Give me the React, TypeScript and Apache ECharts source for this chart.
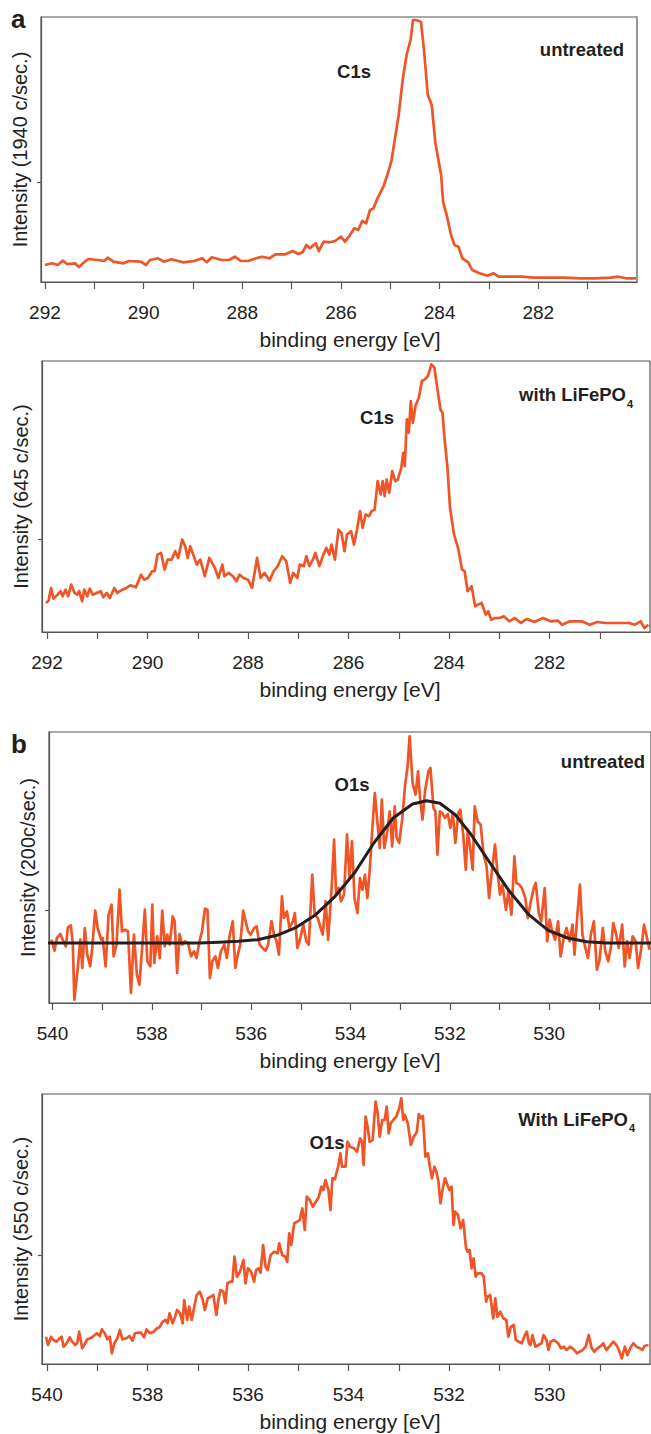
import React, { useEffect, useRef } from "react";
import * as echarts from "echarts";

// ---------- data (binding energy [eV], intensity in arbitrary units) ----------
const c1sUntreated: [number, number][] = [
  [292.0, 17], [291.86, 18.7], [291.74, 17], [291.64, 21.3], [291.55, 18], [291.39, 18.7], [291.31, 15],
  [291.23, 18.7], [291.12, 23], [290.92, 22], [290.8, 21], [290.73, 24.3], [290.61, 20.3], [290.41, 18.7],
  [290.3, 21], [290.06, 20.3], [289.95, 17], [289.87, 22], [289.71, 23.7], [289.59, 20.3], [289.44, 22.7],
  [289.2, 19.7], [288.97, 21], [288.81, 23.7], [288.72, 19.7], [288.62, 24.7], [288.42, 22], [288.27, 22],
  [288.15, 25.3], [288.03, 21], [287.88, 21], [287.72, 23.7], [287.6, 25.3], [287.45, 23.7], [287.33, 27.7],
  [287.13, 27.7], [286.98, 31], [286.86, 28], [286.78, 29.7], [286.7, 37], [286.63, 33.7], [286.51, 38.7],
  [286.45, 31], [286.35, 40.3], [286.23, 39.7], [286.12, 41], [286.0, 45.3], [285.92, 40.3], [285.84, 45.3],
  [285.73, 53.7], [285.65, 52], [285.57, 61], [285.49, 58.7], [285.41, 72], [285.34, 73.7], [285.26, 83.7],
  [285.14, 95.3], [285.06, 107], [284.98, 120.3], [284.91, 142], [284.83, 167], [284.75, 202], [284.67, 227],
  [284.59, 242], [284.54, 262], [284.48, 262], [284.38, 260.3], [284.32, 233.7], [284.24, 187], [284.16, 177],
  [284.09, 140.3], [283.97, 107], [283.93, 80.3], [283.85, 65.3], [283.77, 47], [283.7, 37], [283.62, 35.3],
  [283.54, 23.7], [283.42, 19.7], [283.34, 12], [283.19, 8.7], [283.03, 6.3], [282.91, 8.7], [282.8, 5.3],
  [282.56, 5.3], [282.33, 5.3], [282.09, 4.3], [281.78, 4.3], [281.47, 4.3], [281.16, 3.7], [280.84, 3.7],
  [280.53, 4.3], [280.38, 5.3], [280.22, 3.7], [280.02, 3.7],
];

const c1sLiFePO4: [number, number][] = [
  [292.02, 29], [291.97, 31.3], [291.92, 44], [291.87, 33.3], [291.79, 37.3], [291.73, 40.7], [291.69, 35.7],
  [291.63, 42.3], [291.58, 35.7], [291.52, 47.3], [291.45, 39], [291.4, 37.3], [291.36, 40.7], [291.3, 30.7],
  [291.26, 42.3], [291.2, 35.7], [291.15, 43.3], [291.09, 37.3], [291.01, 39], [290.93, 40.7], [290.88, 34.7],
  [290.81, 39], [290.75, 34], [290.66, 44], [290.6, 39], [290.5, 42.3], [290.42, 44], [290.34, 46.7],
  [290.23, 44.7], [290.13, 57.3], [290.07, 52.3], [289.99, 54], [289.91, 60.7], [289.86, 60.7], [289.8, 77.3],
  [289.73, 79], [289.66, 62.3], [289.6, 72.3], [289.52, 72.3], [289.45, 80.7], [289.39, 74], [289.31, 92.3],
  [289.25, 85.7], [289.2, 74], [289.15, 85.7], [289.09, 77.3], [289.02, 67.3], [288.95, 72.3], [288.86, 55.7],
  [288.77, 74], [288.66, 64], [288.59, 54], [288.51, 67.3], [288.47, 55.7], [288.39, 59], [288.3, 55.7],
  [288.23, 50.7], [288.17, 57.3], [288.09, 54], [288.0, 52.3], [287.92, 44], [287.82, 74], [287.75, 54],
  [287.67, 59], [287.57, 51.3], [287.49, 60.7], [287.41, 65.7], [287.32, 75.7], [287.24, 70.7], [287.16, 49],
  [287.1, 59], [287.02, 54], [286.97, 67.3], [286.89, 65.7], [286.84, 75.7], [286.78, 65.7], [286.71, 72.3],
  [286.66, 79], [286.58, 65.7], [286.5, 77.3], [286.44, 84], [286.38, 77.3], [286.34, 87.3], [286.27, 72.3],
  [286.2, 102.3], [286.14, 99], [286.08, 80.7], [286.03, 97.3], [285.95, 100.7], [285.89, 87.3], [285.83, 102.3],
  [285.77, 120.7], [285.72, 104], [285.66, 117.3], [285.59, 115.7], [285.54, 120.7], [285.48, 122.3],
  [285.42, 150.7], [285.36, 137.3], [285.32, 150.7], [285.28, 135.7], [285.24, 152.3], [285.19, 139],
  [285.13, 160.7], [285.07, 150.7], [285.02, 152.3], [284.95, 164], [284.91, 179], [284.88, 165.7],
  [284.84, 212.3], [284.8, 199], [284.76, 230.7], [284.72, 209], [284.66, 227.3], [284.6, 234], [284.54, 250.7],
  [284.48, 252.3], [284.42, 255.7], [284.35, 267.3], [284.29, 264], [284.23, 242.3], [284.17, 222.3],
  [284.13, 219], [284.09, 194], [284.03, 164], [283.98, 124], [283.9, 97.3], [283.82, 84], [283.74, 62.3],
  [283.69, 60.7], [283.63, 40.7], [283.55, 45.7], [283.48, 25.7], [283.43, 27.3], [283.35, 29], [283.27, 17.3],
  [283.22, 20.7], [283.16, 12.3], [283.08, 14], [283.0, 14], [282.91, 15.7], [282.8, 10.7], [282.69, 14],
  [282.57, 9], [282.45, 13], [282.3, 10], [282.13, 14], [281.98, 10.7], [281.83, 11.3], [281.75, 7.3],
  [281.59, 10.7], [281.36, 10.7], [281.2, 7.3], [281.05, 10], [280.89, 9], [280.66, 9], [280.42, 9],
  [280.3, 7.3], [280.19, 10.7], [280.11, 4], [280.03, 7.3],
];

const o1sUntreated: [number, number][] = [
  [540.02, 63.3], [539.96, 52.3], [539.91, 65], [539.84, 69], [539.78, 61.7], [539.73, 56.7], [539.69, 75.7],
  [539.63, 77.7], [539.59, 58.3], [539.56, 3.3], [539.49, 35], [539.44, 63.3], [539.4, 35], [539.35, 75],
  [539.3, 48.3], [539.24, 36.7], [539.2, 55], [539.14, 92.3], [539.09, 75], [539.02, 63.3], [538.99, 65],
  [538.93, 36.7], [538.87, 88.3], [538.81, 98.3], [538.77, 46.7], [538.71, 58.3], [538.65, 113.3], [538.6, 71.7],
  [538.54, 73.3], [538.48, 71.7], [538.42, 10], [538.36, 68.3], [538.3, 28.3], [538.25, 18.3], [538.19, 58.3],
  [538.14, 93.3], [538.09, 41.7], [538.03, 36.7], [537.99, 98.3], [537.95, 40], [537.89, 66.7], [537.84, 45],
  [537.79, 92.3], [537.74, 56.7], [537.69, 68.3], [537.64, 58.3], [537.58, 86.7], [537.54, 81.7], [537.49, 30],
  [537.44, 69], [537.39, 58.3], [537.33, 61.7], [537.27, 60], [537.21, 46.7], [537.15, 51.7], [537.1, 45],
  [537.04, 61.7], [536.99, 71.7], [536.93, 94.3], [536.88, 93.3], [536.83, 25], [536.78, 41.7], [536.72, 46.7],
  [536.67, 35], [536.61, 51.7], [536.54, 58.3], [536.49, 45], [536.43, 68.3], [536.37, 81.7], [536.32, 35],
  [536.27, 48.3], [536.22, 58.3], [536.16, 92.3], [536.12, 83.3], [536.06, 71.7], [536.01, 68.3], [535.94, 75],
  [535.89, 76.7], [535.83, 58.3], [535.77, 55], [535.71, 52.3], [535.66, 58.3], [535.59, 81.7], [535.54, 68.3],
  [535.49, 61.7], [535.44, 48.3], [535.38, 106.7], [535.34, 85], [535.28, 91.7], [535.23, 75], [535.16, 81.7],
  [535.12, 90], [535.07, 55], [535.01, 65], [534.95, 78.3], [534.89, 61.7], [534.84, 58.3], [534.77, 128.3],
  [534.72, 88.3], [534.66, 85], [534.6, 75], [534.56, 68.3], [534.5, 101.7], [534.45, 63.3], [534.38, 115],
  [534.33, 163.3], [534.29, 108.3], [534.24, 115], [534.19, 101.7], [534.13, 108.3], [534.07, 168.3],
  [534.02, 125], [533.97, 161.7], [533.92, 105], [533.86, 90], [533.81, 125], [533.76, 113.3], [533.71, 128.3],
  [533.66, 105], [533.61, 135], [533.56, 175], [533.51, 210], [533.46, 181.7], [533.41, 155], [533.37, 203.3],
  [533.32, 155], [533.27, 168.3], [533.21, 191.7], [533.16, 156.7], [533.11, 196.7], [533.07, 165], [533.02, 160],
  [532.96, 183.3], [532.9, 218.3], [532.85, 236.7], [532.81, 266.7], [532.75, 220], [532.69, 208.3],
  [532.64, 231.7], [532.6, 205], [532.55, 183.3], [532.5, 211.7], [532.43, 231.7], [532.39, 235], [532.33, 195],
  [532.29, 191.7], [532.25, 148.3], [532.2, 191.7], [532.15, 190], [532.1, 185], [532.04, 189], [531.99, 175],
  [531.94, 190], [531.89, 160], [531.83, 190], [531.79, 193.3], [531.73, 168.3], [531.68, 133.3], [531.64, 171.7],
  [531.59, 155], [531.54, 133.3], [531.5, 196.7], [531.44, 181.7], [531.38, 178.3], [531.32, 148.3],
  [531.26, 136.7], [531.21, 105], [531.15, 133.3], [531.09, 158.3], [531.05, 135], [530.99, 108.3],
  [530.94, 118.3], [530.87, 93.3], [530.82, 111.7], [530.76, 88.3], [530.7, 146.7], [530.66, 120], [530.6, 118.3],
  [530.55, 115], [530.48, 105], [530.43, 85], [530.37, 101.7], [530.31, 115], [530.27, 120], [530.21, 90],
  [530.16, 81.7], [530.09, 115], [530.04, 61.7], [529.99, 83.3], [529.94, 71.7], [529.88, 63.3], [529.82, 81.7],
  [529.77, 46.7], [529.7, 66.7], [529.65, 75], [529.59, 61.7], [529.53, 78.3], [529.49, 48.3], [529.43, 90],
  [529.38, 118.3], [529.33, 68.3], [529.27, 55], [529.22, 45], [529.16, 68.3], [529.1, 81.7], [529.04, 33.3],
  [528.99, 41.7], [528.92, 75], [528.87, 51.7], [528.81, 41.7], [528.75, 58.3], [528.71, 80], [528.65, 68.3],
  [528.6, 55], [528.53, 78.3], [528.48, 36.7], [528.43, 61.7], [528.38, 45], [528.32, 66.7], [528.26, 61.7],
  [528.21, 35], [528.14, 56.7], [528.09, 78.3], [528.03, 65], [527.98, 53.3],
];

const o1sUntreatedFit: [number, number][] = [
  [540.09, 60], [538.6, 60], [537.04, 60], [536.65, 60.7], [536.26, 61.7], [535.87, 63.3], [535.48, 67.7],
  [535.09, 75.7], [534.7, 88.3], [534.31, 106.7], [533.92, 130], [533.53, 160], [533.14, 185], [532.75, 199],
  [532.47, 202.3], [532.2, 199.7], [531.89, 188.3], [531.58, 169], [531.19, 140], [530.8, 111.7], [530.41, 88.3],
  [530.02, 72.7], [529.63, 65], [529.24, 61.3], [528.85, 60], [527.95, 60],
];

const o1sLiFePO4: [number, number][] = [
  [540.02, 27.3], [539.98, 19], [539.92, 27.3], [539.87, 24], [539.81, 22.3], [539.75, 25.7], [539.71, 27.3],
  [539.67, 17.3], [539.61, 20.7], [539.55, 26.7], [539.5, 22.3], [539.44, 19], [539.4, 20.7], [539.36, 32.3],
  [539.3, 15.7], [539.26, 19], [539.2, 24.7], [539.14, 25.7], [539.09, 27.3], [539.01, 30.7], [538.95, 28],
  [538.91, 34.7], [538.85, 30.7], [538.8, 24.7], [538.75, 27.3], [538.71, 10.7], [538.66, 20.7], [538.6, 25.7],
  [538.55, 34], [538.5, 24.7], [538.42, 25.7], [538.36, 28], [538.3, 23.3], [538.25, 30.7], [538.19, 31.3],
  [538.13, 31.3], [538.07, 26.7], [538.02, 34.7], [537.95, 30.7], [537.88, 32.3], [537.81, 35.7], [537.76, 36.7],
  [537.7, 42.3], [537.64, 44], [537.6, 40.7], [537.56, 50.7], [537.5, 40.7], [537.45, 47.3], [537.41, 54],
  [537.35, 50.7], [537.3, 40.7], [537.27, 64], [537.21, 44], [537.17, 57.3], [537.12, 44], [537.07, 57.3],
  [537.02, 69], [536.96, 72.3], [536.9, 64], [536.86, 54], [536.8, 65.7], [536.74, 67.3], [536.69, 69],
  [536.63, 49], [536.59, 64], [536.55, 74], [536.49, 72.3], [536.45, 60.7], [536.41, 80.7], [536.35, 82.3],
  [536.31, 82.3], [536.27, 107.3], [536.22, 87.3], [536.16, 92.3], [536.09, 104], [536.05, 80.7], [536.0, 95.7],
  [535.94, 92.3], [535.88, 82.3], [535.84, 94], [535.79, 95.7], [535.75, 91.3], [535.7, 119], [535.65, 97.3],
  [535.61, 94], [535.55, 109], [535.48, 112.3], [535.41, 110.7], [535.38, 120.7], [535.32, 109], [535.26, 107.3],
  [535.22, 102.3], [535.18, 130.7], [535.14, 119], [535.08, 140.7], [535.02, 142.3], [534.97, 144],
  [534.92, 155.7], [534.87, 134], [534.83, 167.3], [534.77, 164], [534.71, 157.3], [534.65, 162.3],
  [534.59, 167.3], [534.54, 177.3], [534.5, 174], [534.46, 184], [534.4, 174], [534.36, 154], [534.32, 185.7],
  [534.27, 184.7], [534.2, 199], [534.16, 210.7], [534.13, 197.3], [534.06, 197.3], [534.02, 222.3],
  [533.97, 217.3], [533.89, 215.7], [533.83, 212.3], [533.77, 225.7], [533.73, 222.3], [533.7, 199],
  [533.66, 247.3], [533.62, 237.3], [533.58, 222.3], [533.52, 224], [533.46, 262.3], [533.42, 250.7],
  [533.38, 227.3], [533.33, 244], [533.28, 244], [533.24, 257.3], [533.2, 230.7], [533.16, 240.7], [533.11, 244],
  [533.05, 247.3], [532.99, 255.7], [532.95, 265.7], [532.91, 244], [532.88, 249], [532.82, 240.7], [532.76, 219],
  [532.7, 227.3], [532.64, 232.3], [532.6, 250], [532.56, 245.7], [532.52, 248], [532.47, 207.3], [532.42, 210.7],
  [532.38, 197.3], [532.34, 185.7], [532.29, 197.3], [532.25, 192.3], [532.21, 182.3], [532.17, 160.7],
  [532.13, 174], [532.08, 185.7], [532.03, 179], [531.99, 174], [531.95, 177.3], [531.91, 139], [531.88, 152.3],
  [531.82, 149], [531.77, 135.7], [531.72, 144], [531.66, 115.7], [531.63, 112.3], [531.59, 114], [531.55, 95.7],
  [531.51, 105.7], [531.47, 87.3], [531.43, 90.7], [531.35, 90.7], [531.31, 87.3], [531.26, 62.3], [531.23, 67.3],
  [531.18, 69], [531.12, 45.7], [531.08, 65.7], [531.04, 47.3], [530.98, 52.3], [530.92, 45.7], [530.86, 44],
  [530.82, 27.3], [530.77, 37.3], [530.71, 39], [530.67, 24], [530.61, 22.3], [530.55, 20.7], [530.49, 29],
  [530.45, 32.3], [530.41, 20.7], [530.38, 19], [530.34, 29], [530.28, 17.3], [530.22, 19], [530.16, 20.7],
  [530.12, 29], [530.06, 24], [530.02, 14], [529.98, 22.3], [529.91, 24], [529.83, 20.7], [529.77, 15.7],
  [529.71, 17.3], [529.66, 14], [529.59, 17.3], [529.52, 14.7], [529.45, 10.7], [529.4, 12.3], [529.34, 14],
  [529.28, 17.3], [529.22, 29], [529.16, 15.7], [529.11, 12.3], [529.05, 15.7], [528.98, 18], [528.93, 20.7],
  [528.87, 14], [528.81, 17.3], [528.73, 22.3], [528.67, 19], [528.62, 14], [528.56, 5.7], [528.5, 17.3],
  [528.45, 9], [528.38, 17.3], [528.33, 20.7], [528.27, 17.3], [528.2, 15.7], [528.15, 14], [528.11, 18],
  [528.03, 19],
];

// ---------- axis ticks / labels ----------
const cTicks = [281, 282, 283, 284, 285, 286, 287, 288, 289, 290, 291, 292];
const cLabels = [282, 284, 286, 288, 290, 292];
const oTicks = [529, 530, 531, 532, 533, 534, 535, 536, 537, 538, 539, 540];
const oLabels = [530, 532, 534, 536, 538, 540];

const yNames = ["Intensity (1940 c/sec.)", "Intensity (645 c/sec.)", "Intensity (200c/sec.)", "Intensity (550 c/sec.)"];
const xName = "binding energy [eV]";

const ORANGE = "#EF5527";
const DARK = "#231F20";
const AXIS = "#555555";
const FONT = "'Liberation Sans', Arial, Helvetica, sans-serif";

export default function App() {
  const ref = useRef<HTMLDivElement>(null);
  useEffect(() => {
    if (!ref.current) return;
    const chart = echarts.init(ref.current, undefined, { renderer: "svg" });

    const grids = [
      { left: 41, top: 17, width: 596, height: 265 },
      { left: 42, top: 361, width: 608, height: 271 },
      { left: 49, top: 732, width: 607, height: 271 },
      { left: 42, top: 1094, width: 608, height: 270 },
    ];
    const xr = [
      [280, 292.08],
      [280, 292.1],
      [527.95, 540.07],
      [528, 540.1],
    ];
    const yMax = [265, 270.7, 271, 270];
    const yTick = [[100], [92.3], [92.3], [109]];

    const xAxes = grids.map((_, i) => ({
      type: "value",
      gridIndex: i,
      min: xr[i][0],
      max: xr[i][1],
      inverse: true,
      splitLine: { show: false },
      axisLine: { show: true, lineStyle: { color: AXIS, width: 1.2 } },
      axisTick: {
        show: true,
        length: 7,
        customValues: i < 2 ? cTicks : oTicks,
        lineStyle: { color: AXIS, width: 1.2 },
      },
      axisLabel: {
        show: true,
        customValues: i < 2 ? cLabels : oLabels,
        fontSize: 19,
        color: "#222",
        fontFamily: FONT,
        margin: 21,
      },
      name: xName,
      nameLocation: "middle",
      nameGap: 47,
      nameTextStyle: {
        fontSize: 21,
        color: "#222",
        fontFamily: FONT,
        padding: i === 0 ? [0, 0, 0, 22] : i === 1 || i === 3 ? [0, 0, 0, 8] : 0,
      },
    }));

    const yAxes = grids.map((_, i) => ({
      type: "value",
      gridIndex: i,
      min: 0,
      max: yMax[i],
      splitLine: { show: false },
      axisLine: { show: true, lineStyle: { color: AXIS, width: 1.2 } },
      axisTick: { show: true, length: 4, customValues: yTick[i], lineStyle: { color: AXIS, width: 1.2 } },
      axisLabel: { show: false },
      name: yNames[i],
      nameLocation: "middle",
      nameGap: 11,
      nameTextStyle: { fontSize: 20, color: "#222", fontFamily: FONT },
    }));

    const lineSeries = (data: [number, number][], idx: number, color: string, width: number) => ({
      type: "line",
      xAxisIndex: idx,
      yAxisIndex: idx,
      data,
      showSymbol: false,
      symbol: "none",
      smooth: false,
      lineStyle: { color, width, join: "round" },
      silent: true,
    });

    const txt = (text: string, x: number, y: number, size: number, align = "center", weight = "bold") => ({
      type: "text",
      x,
      y,
      silent: true,
      style: {
        text,
        fontSize: size,
        fontWeight: weight,
        fontFamily: FONT,
        fill: "#231F20",
        textAlign: align,
        textVerticalAlign: "middle",
      },
    });

    chart.setOption({
      animation: false,
      backgroundColor: "#ffffff",
      grid: grids.map((g) => ({ ...g, show: true, borderColor: AXIS, borderWidth: 1.2, containLabel: false })),
      xAxis: xAxes,
      yAxis: yAxes,
      series: [
        lineSeries(c1sUntreated, 0, ORANGE, 2.7),
        lineSeries(c1sLiFePO4, 1, ORANGE, 2.7),
        lineSeries(o1sUntreated, 2, ORANGE, 2.7),
        lineSeries(o1sUntreatedFit, 2, DARK, 3),
        lineSeries(o1sLiFePO4, 3, ORANGE, 2.7),
      ],
      graphic: [
        txt("a", 11, 19, 26, "left"),
        txt("C1s", 354, 71, 18.5),
        txt("untreated", 582, 49, 18.5),
        txt("C1s", 377, 417, 18.5),
        txt("with LiFePO", 626, 394, 18.5, "right"),
        txt("4", 627, 404, 11, "left"),
        txt("b", 11, 744, 26, "left"),
        txt("O1s", 352, 784, 18.5),
        txt("untreated", 603, 761, 18.5),
        txt("O1s", 327, 1142, 18.5),
        txt("With LiFePO", 628, 1119, 18.5, "right"),
        txt("4", 629, 1128, 11, "left"),
      ],
    });

    return () => chart.dispose();
  }, []);

  return (
    <div
      ref={ref}
      style={{ position: "absolute", left: 0, top: 0, width: 651, height: 1434, background: "#fff" }}
    />
  );
}
